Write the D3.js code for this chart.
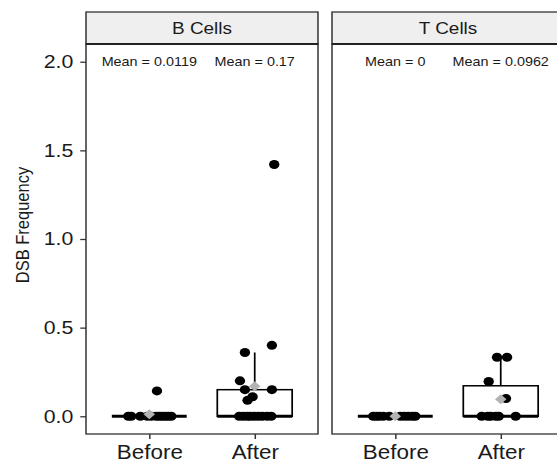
<!DOCTYPE html>
<html>
<head>
<meta charset="utf-8">
<script src="https://cdn.jsdelivr.net/npm/d3@7"></script>
<style>
  body { margin: 0; background: #fff; }
  text { font-family: "Liberation Sans", Arial, sans-serif; }
</style>
</head>
<body>
<div id="chart"></div>
<script>
// the reference is horizontally stretched, so draw in a narrower viewBox
const W = 557, H = 461, stretch = 1.15;
const VW = W / stretch;

const panels = ["B Cells", "T Cells"];
const groups = ["Before", "After"];
const yTicks = [0, 0.5, 1.0, 1.5, 2.0];
const meanLabels = [["Mean = 0.0119", "Mean = 0.17"], ["Mean = 0", "Mean = 0.0962"]];

// values per panel/group, with the jitter offsets
const bBefore = [0.143, 0, 0, 0, 0, 0, 0, 0, 0, 0, 0, 0];
const bBeforeJit = [0.073, -0.199, -0.171, -0.085, -0.019, 0.019, 0.066, 0.095, 0.123, 0.152, 0.18, 0.209];
const bAfter = [1.42, 0.40, 0.36, 0.20, 0.15, 0.15, 0.11, 0.09, 0, 0, 0, 0, 0, 0, 0, 0, 0];
const bAfterJit = [0.185, 0.163, -0.093, -0.14, -0.093, 0.163, -0.02, -0.068, -0.147, -0.109, -0.071, -0.043, -0.005, 0.033, 0.071, 0.118, 0.157];
const tBefore = [0, 0, 0, 0, 0, 0, 0, 0, 0, 0];
const tBeforeJit = [-0.209, -0.18, -0.152, -0.114, -0.057, 0.047, 0.085, 0.123, 0.161, 0.19];
const tAfter = [0.333, 0.333, 0.196, 0.10, 0, 0, 0, 0, 0, 0];
const tAfterJit = [-0.035, 0.06, -0.114, 0.05, -0.18, -0.123, -0.095, -0.047, -0.019, 0.142];

const data = [
  [{vals: bBefore, jit: bBeforeJit}, {vals: bAfter, jit: bAfterJit}],
  [{vals: tBefore, jit: tBeforeJit}, {vals: tAfter, jit: tAfterJit}]
];

const panelLeft = [86 / stretch, 332 / stretch];
const panelW = 232 / stretch;
const stripTop = 12, stripBottom = 44, panelBottom = 434;
const boxW = 0.71;

const svg = d3.select('#chart')
  .append('svg')
  .attr('width', W)
  .attr('height', H)
  .attr('viewBox', '0 0 ' + VW + ' ' + H)
  .attr('preserveAspectRatio', 'none');

const y = d3.scaleLinear()
  .domain([-0.1, 2.1])
  .range([panelBottom, stripBottom]);

const diamond = h => 'M0,' + (-h) + 'L' + h + ',0L0,' + h + 'L' + (-h) + ',0Z';

panels.forEach((name, p) => {
  const x = d3.scaleLinear()
    .domain([0.4, 2.6])
    .range([panelLeft[p], panelLeft[p] + panelW]);

  const g = svg.append('g');

  // strip
  g.append('rect')
    .attr('x', panelLeft[p]).attr('y', stripTop)
    .attr('width', panelW).attr('height', stripBottom - stripTop)
    .attr('fill', '#efefef').attr('stroke', '#333').attr('stroke-width', 1.3);
  g.append('text')
    .attr('x', panelLeft[p] + panelW / 2).attr('y', 34)
    .attr('text-anchor', 'middle')
    .attr('font-size', 16.5).attr('fill', '#1a1a1a')
    .text(name);

  // panel
  g.append('rect')
    .attr('x', panelLeft[p]).attr('y', stripBottom)
    .attr('width', panelW).attr('height', panelBottom - stripBottom)
    .attr('fill', '#fff').attr('stroke', '#333').attr('stroke-width', 1.3);
  g.append('line')
    .attr('x1', panelLeft[p]).attr('x2', panelLeft[p] + panelW)
    .attr('y1', stripBottom).attr('y2', stripBottom)
    .attr('stroke', '#222').attr('stroke-width', 2);

  // x axis
  const xAxis = g.append('g')
    .attr('transform', 'translate(0,' + panelBottom + ')')
    .call(d3.axisBottom(x).tickValues([1, 2]).tickSize(5).tickPadding(6)
      .tickFormat((d, i) => groups[i]));
  xAxis.select('.domain').remove();
  xAxis.selectAll('line').attr('stroke', '#333').attr('stroke-width', 1.3);
  xAxis.selectAll('text').attr('font-size', 19.5).attr('fill', '#1a1a1a')
    .attr('font-family', '"Liberation Sans", Arial, sans-serif');

  data[p].forEach((grp, gi) => {
    const cx = gi + 1;
    const sorted = grp.vals.slice().sort(d3.ascending);
    const q1 = d3.quantile(sorted, 0.25);
    const med = d3.quantile(sorted, 0.5);
    const q3 = d3.quantile(sorted, 0.75);
    const iqr = q3 - q1;
    const hi = d3.max(sorted.filter(v => v <= q3 + 1.5 * iqr));
    const lo = d3.min(sorted.filter(v => v >= q1 - 1.5 * iqr));

    // whiskers
    g.append('line')
      .attr('x1', x(cx)).attr('x2', x(cx))
      .attr('y1', y(q3)).attr('y2', y(hi))
      .attr('stroke', '#000').attr('stroke-width', 1.5);
    g.append('line')
      .attr('x1', x(cx)).attr('x2', x(cx))
      .attr('y1', y(q1)).attr('y2', y(lo))
      .attr('stroke', '#000').attr('stroke-width', 1.5);
    // box
    g.append('rect')
      .attr('x', x(cx - boxW / 2)).attr('width', x(cx + boxW / 2) - x(cx - boxW / 2))
      .attr('y', y(q3)).attr('height', y(q1) - y(q3))
      .attr('fill', '#fff').attr('stroke', '#000').attr('stroke-width', 1.5);
    // median
    g.append('line')
      .attr('x1', x(cx - boxW / 2)).attr('x2', x(cx + boxW / 2))
      .attr('y1', y(med)).attr('y2', y(med))
      .attr('stroke', '#000').attr('stroke-width', 3);

    // jittered points
    g.selectAll(null)
      .data(grp.vals.map((v, i) => ({v: v, dx: grp.jit[i]})))
      .enter()
      .append('circle')
      .attr('cx', d => x(cx + d.dx))
      .attr('cy', d => y(d.v))
      .attr('r', 4.5)
      .attr('fill', '#000');

    // mean
    g.append('path')
      .attr('d', diamond(5))
      .attr('transform', 'translate(' + x(cx) + ',' + y(d3.mean(grp.vals)) + ')')
      .attr('fill', '#b3b3b3');

    // mean label
    g.append('text')
      .attr('x', x(cx)).attr('y', y(2.0))
      .attr('dy', '0.35em')
      .attr('text-anchor', 'middle')
      .attr('font-size', 12.5).attr('fill', '#1a1a1a')
      .text(meanLabels[p][gi]);
  });

  // y axis only on first panel
  if (p === 0) {
    const yAxis = g.append('g')
      .attr('transform', 'translate(' + panelLeft[p] + ',0)')
      .call(d3.axisLeft(y).tickValues(yTicks).tickSize(5).tickPadding(6)
        .tickFormat(d3.format('.1f')));
    yAxis.select('.domain').remove();
    yAxis.selectAll('line').attr('stroke', '#333').attr('stroke-width', 1.3);
    yAxis.selectAll('text').attr('font-size', 18.5).attr('fill', '#1a1a1a')
      .attr('font-family', '"Liberation Sans", Arial, sans-serif');
  }
});

// y title
svg.append('text')
  .attr('transform', 'translate(25.6,' + 225 + ') rotate(-90)')
  .attr('text-anchor', 'middle')
  .attr('font-size', 16.5).attr('fill', '#1a1a1a')
  .text('DSB Frequency');
</script>
</body>
</html>
